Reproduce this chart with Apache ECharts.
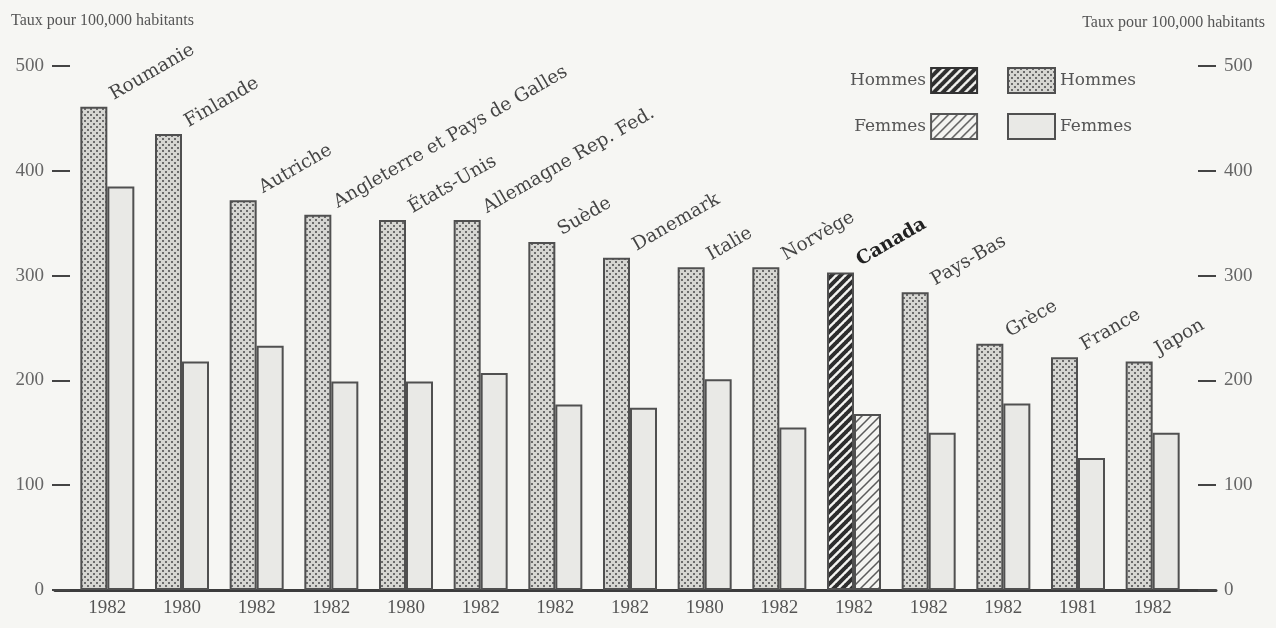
<!DOCTYPE html>
<html lang="fr">
  <head>
    <meta charset="UTF-8" />
    <title>Taux pour 100,000 habitants</title>
    <script src="https://cdn.jsdelivr.net/npm/echarts@6/dist/echarts.min.js"></script>
  </head>
  <style>
    html,
    body {
      margin: 0;
      padding: 0;
      width: 100%;
      height: 100%;
      background: #f6f6f3;
    }
    #chart {
      width: 1276px;
      height: 628px;
    }
  </style>
  <body>
    <div id="chart"></div>
  </body>
  <script>
    const countries = [
      "Roumanie", "Finlande", "Autriche", "Angleterre et Pays de Galles", "États-Unis",
      "Allemagne Rep. Fed.", "Suède", "Danemark", "Italie", "Norvège",
      "Canada", "Pays-Bas", "Grèce", "France", "Japon",
    ];
    const years = [
      "1982", "1980", "1982", "1982", "1980", "1982", "1982", "1982",
      "1980", "1982", "1982", "1982", "1982", "1981", "1982",
    ];
    const hommes = [461, 435, 372, 358, 353, 353, 332, 317, 308, 308, 303, 284, 235, 222, 218];
    const femmes = [385, 218, 233, 199, 199, 207, 177, 174, 201, 155, 168, 150, 178, 126, 150];
    const yMax = 500;
    const yStep = 100;
    const highlight = "Canada";

    // little canvas tiles for the printed textures
    function dots(bg, dot) {
      const c = document.createElement("canvas");
      c.width = c.height = 6;
      const g = c.getContext("2d");
      g.fillStyle = bg;
      g.fillRect(0, 0, 6, 6);
      g.fillStyle = dot;
      g.fillRect(0, 0, 2, 2);
      g.fillRect(3, 3, 2, 2);
      return { image: c, repeat: "repeat" };
    }
    function hatch(bg, ink, w) {
      const s = 9;
      const c = document.createElement("canvas");
      c.width = c.height = s;
      const g = c.getContext("2d");
      g.fillStyle = bg;
      g.fillRect(0, 0, s, s);
      g.strokeStyle = ink;
      g.lineWidth = w;
      g.beginPath();
      g.moveTo(-1, s + 1); g.lineTo(s + 1, -1);
      g.moveTo(-1, 1); g.lineTo(1, -1);
      g.moveTo(s - 1, s + 1); g.lineTo(s + 1, s - 1);
      g.stroke();
      return { image: c, repeat: "repeat" };
    }

    const dotM = dots("#d6d6d2", "#6c6c6c");
    const plainF = "#e9e9e6";
    const hatchM = hatch("#f4f4f1", "#2e2e2e", 4);
    const hatchF = hatch("#f4f4f1", "#5a5a5a", 1.5);
    const edge = "#505050";
    const serif = "DejaVu Serif";
    const tick = "Liberation Serif";

    const hi = countries.indexOf(highlight);
    const hommesData = hommes.map((v, i) =>
      i === hi
        ? { value: v, itemStyle: { color: hatchM }, label: { fontWeight: "bold", color: "#222" } }
        : v
    );
    const femmesData = femmes.map((v, i) =>
      i === hi ? { value: v, itemStyle: { color: hatchF } } : v
    );

    const legendText = { fontFamily: serif, fontSize: 17, color: "#555" };

    const chart = echarts.init(document.getElementById("chart"));
    const option = {
      backgroundColor: "#f6f6f3",
      animation: false,
      title: [
        {
          text: "Taux pour 100,000 habitants",
          left: 6,
          top: 8,
          textStyle: { fontFamily: tick, fontSize: 16, fontWeight: "normal", color: "#555" },
        },
        {
          text: "Taux pour 100,000 habitants",
          right: 6,
          top: 10,
          textStyle: { fontFamily: tick, fontSize: 16, fontWeight: "normal", color: "#555" },
        },
      ],
      legend: [
        {
          data: ["Hommes (hachuré)", "Femmes (hachuré)"],
          left: 845,
          top: 62,
          orient: "vertical",
          align: "right",
          icon: "rect",
          itemWidth: 46,
          itemHeight: 25,
          itemGap: 19,
          formatter: (n) => n.split(" ")[0],
          textStyle: legendText,
        },
        {
          data: ["Hommes", "Femmes"],
          left: 1002,
          top: 62,
          orient: "vertical",
          align: "left",
          icon: "rect",
          itemWidth: 47,
          itemHeight: 25,
          itemGap: 19,
          textStyle: legendText,
        },
      ],
      grid: [
        { left: 70, right: 86, top: 66, bottom: 38 },
        { left: 55, right: 60, top: 66, bottom: 38 },
      ],
      xAxis: [
        {
          type: "category",
          data: years,
          gridIndex: 0,
          axisLine: { show: false },
          axisTick: { show: false },
          axisLabel: { fontFamily: tick, fontSize: 19, color: "#555", margin: 9 },
        },
        {
          type: "value",
          gridIndex: 1,
          min: 0,
          max: 1,
          axisLine: { show: true, lineStyle: { color: "#3c3c3c", width: 3 } },
          axisTick: { show: false },
          axisLabel: { show: false },
          splitLine: { show: false },
        },
      ],
      yAxis: [
        {
          type: "value",
          gridIndex: 0,
          position: "left",
          min: 0,
          max: yMax,
          interval: yStep,
          axisLine: { show: false },
          axisTick: { show: true, length: 18, lineStyle: { color: "#444", width: 2 } },
          axisLabel: { fontFamily: tick, fontSize: 19, color: "#666", margin: 26 },
          splitLine: { show: false },
        },
        {
          type: "value",
          gridIndex: 0,
          position: "right",
          offset: 8,
          min: 0,
          max: yMax,
          interval: yStep,
          axisLine: { show: false },
          axisTick: { show: true, length: 18, lineStyle: { color: "#444", width: 2 } },
          axisLabel: { fontFamily: tick, fontSize: 19, color: "#666", margin: 26 },
          splitLine: { show: false },
        },
        {
          type: "value",
          gridIndex: 1,
          min: 0,
          max: yMax,
          show: false,
        },
      ],
      series: [
        {
          name: "Hommes",
          type: "bar",
          data: hommesData,
          barWidth: 27,
          barGap: "0%",
          itemStyle: { color: dotM, borderColor: edge, borderWidth: 2 },
          label: {
            show: true,
            position: ["100%", 0],
            offset: [9, 2],
            rotate: 30,
            align: "left",
            verticalAlign: "bottom",
            fontFamily: serif,
            fontSize: 18.5,
            color: "#444",
            formatter: (p) => countries[p.dataIndex],
          },
        },
        {
          name: "Femmes",
          type: "bar",
          data: femmesData,
          barWidth: 27,
          barGap: "0%",
          itemStyle: { color: plainF, borderColor: edge, borderWidth: 2 },
        },
        {
          name: "Hommes (hachuré)",
          type: "bar",
          xAxisIndex: 1,
          yAxisIndex: 2,
          data: [],
          itemStyle: { color: hatchM, borderColor: "#333", borderWidth: 2 },
        },
        {
          name: "Femmes (hachuré)",
          type: "bar",
          xAxisIndex: 1,
          yAxisIndex: 2,
          data: [],
          itemStyle: { color: hatchF, borderColor: "#555", borderWidth: 2 },
        },
      ],
    };
    chart.setOption(option);
  </script>
</html>
